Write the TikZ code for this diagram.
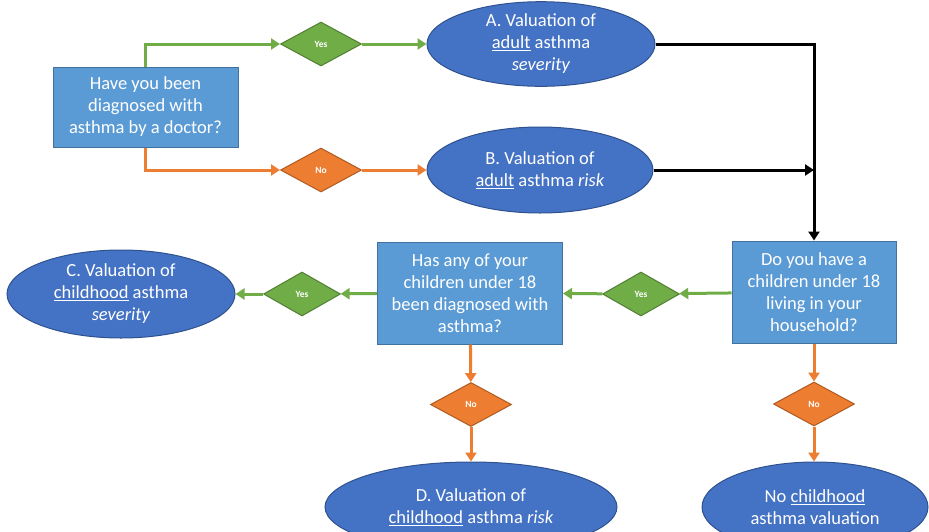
\documentclass[tikz,border=0pt]{standalone}
\usepackage{fontspec}
\setmainfont{Carlito}
\usetikzlibrary{shapes.geometric,arrows.meta}

\definecolor{qfill}{HTML}{5B9BD5}
\definecolor{qline}{HTML}{41719C}
\definecolor{vfill}{HTML}{4472C4}
\definecolor{vline}{HTML}{2F528F}
\definecolor{gfill}{HTML}{70AD47}
\definecolor{gline}{HTML}{507E32}
\definecolor{ofill}{HTML}{ED7D31}
\definecolor{oline}{HTML}{AE5A21}

\tikzset{
	txt/.style={text=white,align=center,inner sep=0pt,font=\fontsize{18.5}{22}\selectfont},
	question/.style={txt,draw=qline,fill=qfill,line width=1pt},
	valuation/.style={txt,ellipse,draw=vline,fill=vfill,line width=1pt},
	yesno/.style={diamond,text=white,inner sep=0pt,line width=1pt,
		minimum width=81pt,minimum height=44pt,font=\bfseries\fontsize{9.5}{10}\selectfont},
	yes/.style={yesno,draw=gline,fill=gfill},
	no/.style={yesno,draw=oline,fill=ofill},
	link/.style={line width=3pt,-{Triangle[length=9pt,width=11pt]}},
}

\begin{document}
\begin{tikzpicture}[x=1pt,y=-1pt]
	\useasboundingbox (0,0) rectangle (929,531);

	% questions
	\node[question,minimum width=185pt,minimum height=80pt] (q1) at (145.5,107)
		{Have you been\\diagnosed with\\asthma by a doctor?};
	\node[question,minimum width=164pt,minimum height=102pt] (q2) at (814,292)
		{Do you have a\\children under 18\\living in your\\household?};
	\node[question,minimum width=185pt,minimum height=102pt] (q3) at (470,293)
		{Has any of your\\children under 18\\been diagnosed with\\asthma?};

	% answers
	\node[yes] (y1) at (321,44) {Yes};
	\node[no] (n1) at (321,170) {No};
	\node[yes,minimum width=77pt] (y2) at (641,294) {Yes};
	\node[yes,minimum width=77pt] (y3) at (302,294) {Yes};
	\node[no] (n2) at (471,404.5) {No};
	\node[no] (n3) at (814,404) {No};

	% valuations
	\node[valuation,minimum width=228pt,minimum height=84pt] (vA) at (541,44)
		{A. Valuation of\\\underline{adult} asthma\\\textit{severity}};
	\node[valuation,minimum width=226pt,minimum height=86pt] (vB) at (540,170)
		{B. Valuation of\\\underline{adult} asthma \textit{risk}};
	\node[valuation,minimum width=228pt,minimum height=88pt] (vC) at (121,294)
		{C. Valuation of\\\underline{childhood} asthma\\\textit{severity}};
	\node[valuation,minimum width=292pt,minimum height=90pt] (vD) at (471,507)
		{D. Valuation of\\\underline{childhood} asthma \textit{risk}};
	\node[valuation,minimum width=226pt,minimum height=90pt] (vE) at (815,507)
		{No \underline{childhood}\\asthma valuation};

	% adult branch
	\draw[link,gfill] (q1.north) |- (y1.west);
	\draw[link,gfill] (y1) -- (vA);
	\draw[link,ofill] (q1.south) |- (n1.west);
	\draw[link,ofill] (n1) -- (vB);
	\draw[link,black] (vA.east) -| (q2.north);
	\draw[link,black] (vB.east) -- (vB.east -| q2.north);

	% children branch
	\draw[link,gfill] (q2) -- (y2);
	\draw[link,gfill] (y2) -- (q3);
	\draw[link,gfill] (q3) -- (y3);
	\draw[link,gfill] (y3) -- (vC);
	\draw[link,ofill] (q3) -- (n2);
	\draw[link,ofill] (n2) -- (vD);
	\draw[link,ofill] (q2) -- (n3);
	\draw[link,ofill] (n3) -- (n3 |- vE.north);
\end{tikzpicture}
\end{document}
